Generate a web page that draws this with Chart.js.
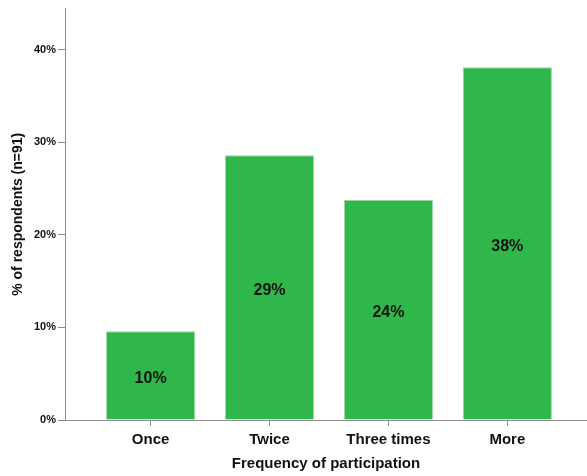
<!DOCTYPE html>
<html>
<head>
<meta charset="utf-8">
<script src="https://cdn.jsdelivr.net/npm/chart.js@4.4.1/dist/chart.umd.min.js"></script>
<style>
  html, body { margin: 0; padding: 0; background: #fff; }
  #wrap { width: 587px; height: 476px; position: relative; }
</style>
</head>
<body>
<div id="wrap"><canvas id="chart"></canvas></div>
<script>
// =====================
// Data
// =====================
const categories = ["Once", "Twice", "Three times", "More"];
const percents = [9.6, 28.6, 23.8, 38.1];
const yTicks = [0, 10, 20, 30, 40];

const axisGray = "#8c8c8c";
const fontFamily = "'Liberation Sans', Arial, sans-serif";

// labels in the middle of each bar
const barLabels = {
  id: "barLabels",
  afterDatasetsDraw(chart) {
    const ctx = chart.ctx;
    const meta = chart.getDatasetMeta(0);
    ctx.save();
    ctx.fillStyle = "#111";
    ctx.font = "bold 16px " + fontFamily;
    ctx.textAlign = "center";
    ctx.textBaseline = "middle";
    meta.data.forEach((bar, i) => {
      const p = bar.getProps(["x", "y", "base"], true);
      ctx.fillText(Math.round(percents[i]) + "%", p.x, (p.y + p.base) / 2 + 3);
    });
    ctx.restore();
  }
};

// =====================
// Chart
// =====================
new Chart(document.getElementById("chart"), {
  type: "bar",
  data: {
    datasets: [{
      data: categories.map((c, i) => ({ x: i, y: percents[i] })),
      backgroundColor: "#30b74b",
      borderColor: "#9fd8a8",
      borderWidth: 1,
      borderSkipped: "bottom",
      barPercentage: 0.75,
      categoryPercentage: 1
    }]
  },
  options: {
    responsive: true,
    maintainAspectRatio: false,
    animation: false,
    layout: { padding: { top: 8, right: 0, left: 0, bottom: 0 } },
    plugins: { legend: { display: false }, tooltip: { enabled: false } },
    scales: {
      x: {
        type: "linear",
        offset: false,
        min: -0.72,
        max: 3.67,
        afterBuildTicks: s => { s.ticks = categories.map((c, i) => ({ value: i })); },
        afterFit: s => { s.height = 56; },
        ticks: {
          callback: v => categories[v],
          color: "#111",
          font: { family: fontFamily, size: 15, weight: "bold" },
          padding: 5,
          maxRotation: 0,
          autoSkip: false
        },
        grid: { offset: false, drawOnChartArea: false, color: axisGray, tickLength: 6 },
        border: { color: axisGray, width: 1 },
        title: {
          display: true,
          text: "Frequency of participation",
          color: "#111",
          font: { family: fontFamily, size: 15, weight: "bold" },
          padding: { top: 3, bottom: 3 }
        }
      },
      y: {
        min: 0,
        max: 44.45,
        afterBuildTicks: s => { s.ticks = yTicks.map(v => ({ value: v })); },
        afterFit: s => { s.width = 65; },
        ticks: {
          callback: v => v + "%",
          color: "#111",
          font: { family: fontFamily, size: 11, weight: "bold" },
          padding: 2
        },
        grid: { drawOnChartArea: false, color: axisGray, tickLength: 7 },
        border: { color: axisGray, width: 1 },
        title: {
          display: true,
          text: "% of respondents (n=91)",
          color: "#111",
          font: { family: fontFamily, size: 14, weight: "bold" },
          padding: { top: 10, bottom: 10 }
        }
      }
    }
  },
  plugins: [barLabels]
});
</script>
</body>
</html>
